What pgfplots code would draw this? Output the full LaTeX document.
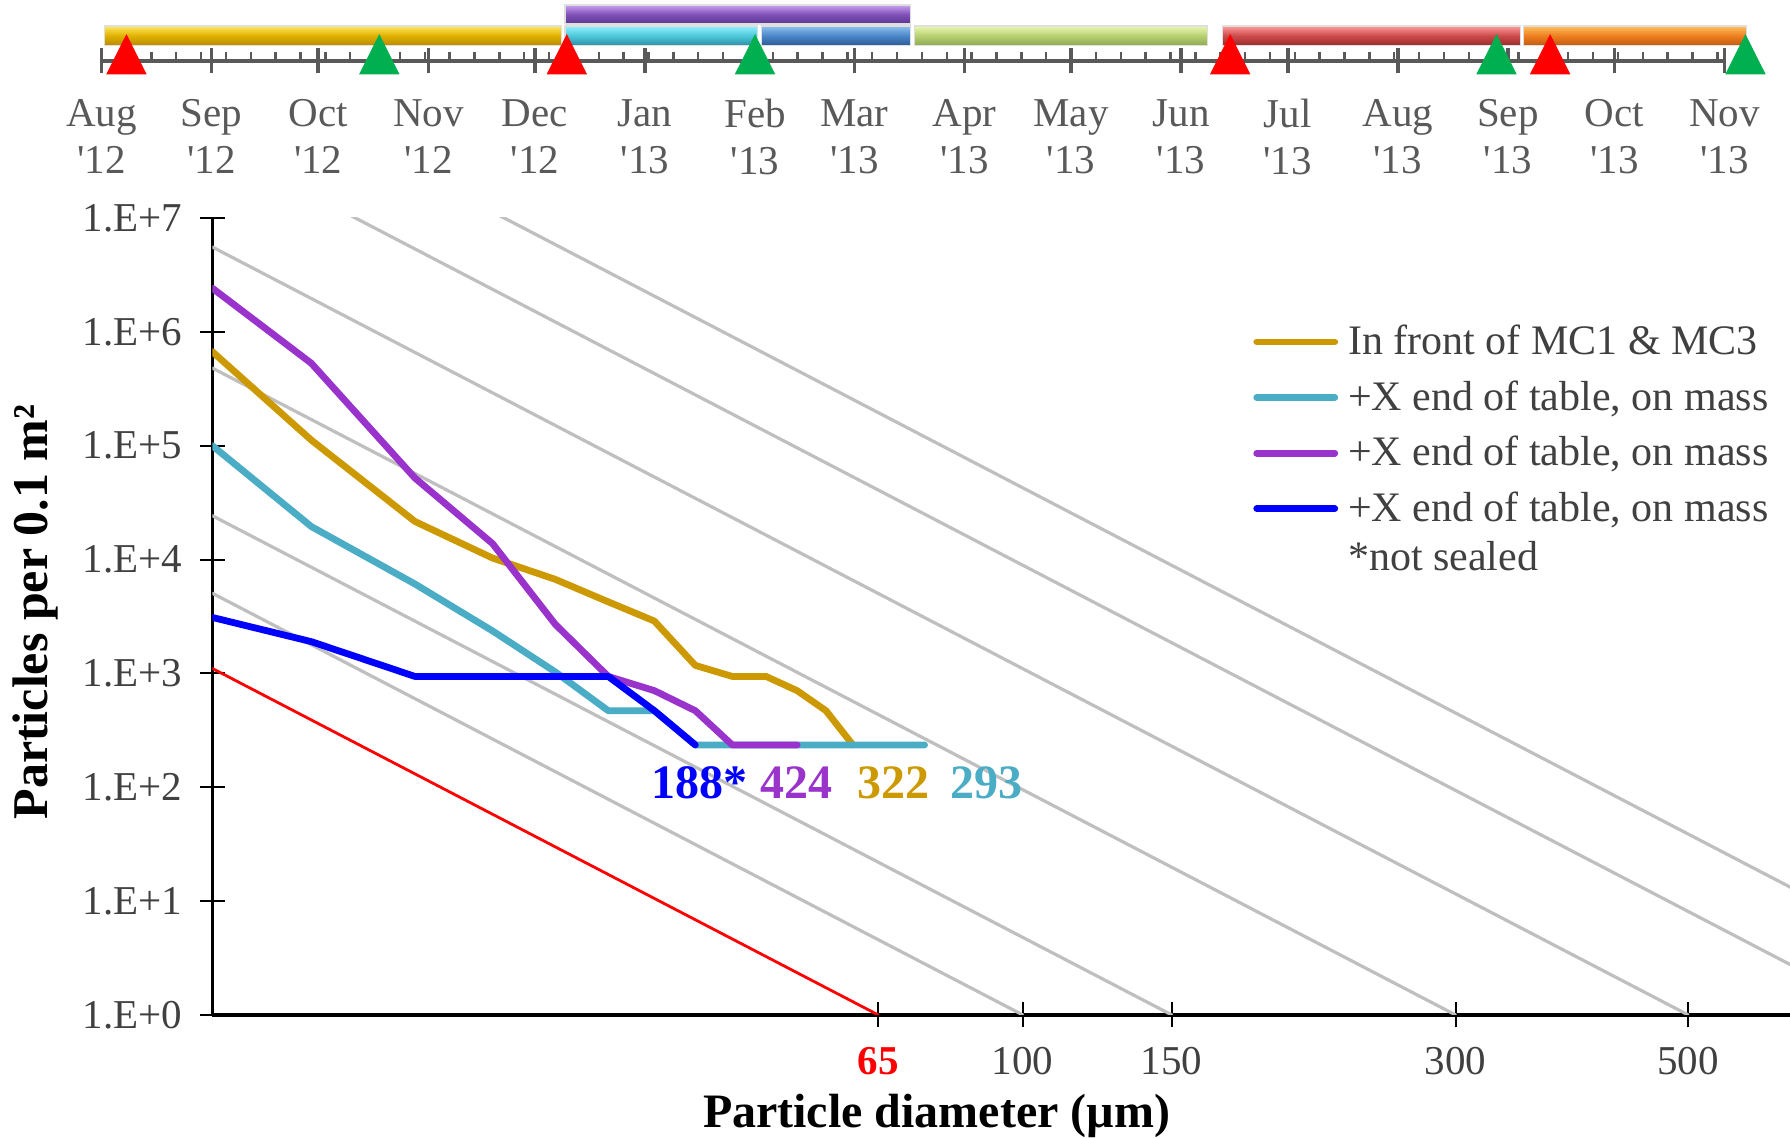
\documentclass[border=0pt]{standalone}
\usepackage{fontspec}
\setmainfont{Liberation Serif}
\usepackage{pgfplots}
\pgfplotsset{compat=1.18}

\definecolor{cgold}{HTML}{CC9900}
\definecolor{ccyan}{HTML}{4BACC6}
\definecolor{cpurple}{HTML}{9933CC}
\definecolor{cblue}{HTML}{0000FF}
\definecolor{lvlgray}{HTML}{BFBFBF}
\definecolor{txtgray}{HTML}{404040}
\definecolor{tgray}{HTML}{595959}
\definecolor{tgreen}{HTML}{00B050}
% timeline bar shades: top / middle / bottom
\definecolor{goldT}{HTML}{FFE860}\definecolor{goldM}{HTML}{E0B000}\definecolor{goldB}{HTML}{B88A00}
\definecolor{aquaT}{HTML}{90F0FF}\definecolor{aquaM}{HTML}{4CC8DA}\definecolor{aquaB}{HTML}{2A8FA5}
\definecolor{steelT}{HTML}{90C0F0}\definecolor{steelM}{HTML}{4A86C8}\definecolor{steelB}{HTML}{2C5A98}
\definecolor{limeT}{HTML}{EAF8B0}\definecolor{limeM}{HTML}{B8D070}\definecolor{limeB}{HTML}{8CA850}
\definecolor{redT}{HTML}{FF9A9A}\definecolor{redM}{HTML}{CC4A4A}\definecolor{redB}{HTML}{9A2A2A}
\definecolor{orT}{HTML}{FFC060}\definecolor{orM}{HTML}{EE7E1E}\definecolor{orB}{HTML}{C05A10}
\definecolor{vioT}{HTML}{C8A0F0}\definecolor{vioM}{HTML}{8050B8}\definecolor{vioB}{HTML}{5A3690}

% x position on the chart: (log10 d)^2
\newcommand{\dsq}{(ln(\thisrow{d})/2.302585093)*(ln(\thisrow{d})/2.302585093)}
\newcommand{\txt}{\fontsize{21bp}{24bp}\selectfont}
\newcommand{\tck}{\fontsize{20.5bp}{24bp}\selectfont}
\newcommand{\lbl}{\bfseries\fontsize{24bp}{28bp}\selectfont}
\newcommand{\ls}{\rule{0pt}{26.3bp}}
\pgfplotsset{bar/.style={draw=gray!25, line width=0.6bp,
    top color=#1T, bottom color=#1B, middle color=#1M}}

\begin{document}
\begin{tikzpicture}
\useasboundingbox (0,0) rectangle (895bp,569bp);

% ---------- timeline ----------
\begin{axis}[
    at={(50.8bp,538.5bp)}, anchor=south west,
    scale only axis, width=811.45bp, height=30.5bp,
    xmin=0, xmax=457, ymin=0, ymax=61,
    axis y line=none, axis x line=bottom,
    axis line style={-, draw=tgray, line width=2bp},
    clip=false,
    xtick={0,31,61,92,122,153,184,212,243,273,304,334,365,396,426,457},
    xticklabels={{Aug\\\textquotesingle12},{Sep\\\textquotesingle12},{Oct\\\textquotesingle12},
      {Nov\\\textquotesingle12},{Dec\\\textquotesingle12},{Jan\\\textquotesingle13},
      {Feb\\\textquotesingle13},{Mar\\\textquotesingle13},{Apr\\\textquotesingle13},
      {May\\\textquotesingle13},{Jun\\\textquotesingle13},{Jul\\\textquotesingle13},
      {Aug\\\textquotesingle13},{Sep\\\textquotesingle13},{Oct\\\textquotesingle13},
      {Nov\\\textquotesingle13}},
    minor xtick={0,7,...,455},
    tick align=center,
    major tick length=12.5bp, minor tick length=4.7bp,
    major tick style={draw=tgray, line width=1.8bp},
    minor tick style={draw=tgray, line width=1.2bp, yshift=2.35bp},
    x tick label style={align=center, anchor=north, inner sep=0pt, yshift=-12.8bp,
      font=\fontsize{20.5bp}{23.5bp}\selectfont, text=tgray},
]
% lower row
\addplot[bar=gold]
  coordinates {(0.85,15.3) (129.6,15.3) (129.6,35) (0.85,35) (0.85,15.3)};
\addplot[bar=aqua]
  coordinates {(130.5,15.3) (184.6,15.3) (184.6,35) (130.5,35) (130.5,15.3)};
\addplot[bar=steel]
  coordinates {(185.9,15.3) (227.7,15.3) (227.7,35) (185.9,35) (185.9,15.3)};
\addplot[bar=lime]
  coordinates {(229,15.3) (311.4,15.3) (311.4,35) (229,35) (229,15.3)};
\addplot[bar=red]
  coordinates {(315.7,15.3) (399.5,15.3) (399.5,35) (315.7,35) (315.7,15.3)};
\addplot[bar=or]
  coordinates {(400.3,15.3) (463.2,15.3) (463.2,35) (400.3,35) (400.3,15.3)};
% upper row
\addplot[bar=vio]
  coordinates {(130.5,37) (227.7,37) (227.7,56) (130.5,56) (130.5,37)};
% milestones
\addplot[only marks, mark=triangle*, mark size=13bp, color=red, mark options={xscale=0.87, draw=none}]
  coordinates {(7,0) (131,0) (317.8,0) (407.9,0)};
\addplot[only marks, mark=triangle*, mark size=13bp, color=tgreen, mark options={xscale=0.87, draw=none}]
  coordinates {(78.2,0) (184,0) (392.8,0) (462.9,0)};
\end{axis}

% ---------- particle distribution ----------
\begin{axis}[
    at={(106.15bp,61.55bp)}, anchor=south west,
    scale only axis, width=788.85bp, height=398.45bp,
    xmin=0, xmax=7.787, ymode=log, ymin=1, ymax=1e7,
    axis x line=bottom, axis y line=left,
    axis line style={-, black, line width=1.6bp},
    xtick={3.286654,4,4.735373,6.136130,7.284439},
    xticklabels={{\color{red}\bfseries 65},100,150,300,500},
    ytick={1,10,100,1000,10000,100000,1000000,10000000},
    yticklabels={1.E+0,1.E+1,1.E+2,1.E+3,1.E+4,1.E+5,1.E+6,1.E+7},
    yminorticks=false,
    tick align=center, major tick length=12.5bp,
    tick style={black, line width=1bp},
    x tick label style={anchor=north, inner sep=0pt, yshift=-9.7bp, font=\tck, text=txtgray},
    y tick label style={anchor=east, inner sep=0pt, xshift=-8.5bp, font=\tck, text=txtgray},
    legend style={at={(0.6596,0.8953)}, anchor=north west, draw=none, fill=none,
      inner sep=0pt, row sep=0pt, font=\txt, text=txtgray,
      nodes={inner xsep=5bp, inner ysep=0pt}},
    legend cell align=left,
    legend image code/.code={\draw[#1] (0bp,-6.15bp) -- (39bp,-6.15bp);},
    every axis plot/.append style={line cap=round, line join=round},
]
% cleanliness level lines (65, 100, 150, 300, 500, 750, 1000)
\addplot[red, line width=1.4bp, forget plot] table[x expr=\dsq, y=n] {
d n
1 1105.1
65 1
};
\addplot[lvlgray, line width=1.6bp, forget plot] table[x expr=\dsq, y=n] {
d n
1 5058.2
100 1
};
\addplot[lvlgray, line width=1.6bp, forget plot] table[x expr=\dsq, y=n] {
d n
1 24266
150 1
};
\addplot[lvlgray, line width=1.6bp, forget plot] table[x expr=\dsq, y=n] {
d n
1 480950
300 1
};
\addplot[lvlgray, line width=1.6bp, forget plot] table[x expr=\dsq, y=n] {
d n
1 5561800
500 1
};
\addplot[lvlgray, line width=1.6bp, forget plot] table[x expr=\dsq, y=n] {
d n
1 45104000
750 1
};
\addplot[lvlgray, line width=1.6bp, forget plot] table[x expr=\dsq, y=n] {
d n
1 215770000
1000 1
};

% measurements
\addplot[cgold, line width=3.4bp] table[x expr=\dsq, y=n] {
d n
1 670000
5 112000
10 21600
15 10300
20 6700
25 4250
30 2880
35 1175
40 940
45 940
50 705
55 470
60 235
};
\addlegendentry{\ls In front of MC1 \& MC3}
\addplot[ccyan, line width=3.4bp] table[x expr=\dsq, y=n] {
d n
1 100000
5 19500
10 6100
15 2360
20 1030
25 470
30 470
35 235
40 235
45 235
50 235
55 235
60 235
65 235
70 235
75 235
};
\addlegendentry{\ls +X end of table, on mass}
\addplot[cpurple, line width=3.4bp] table[x expr=\dsq, y=n] {
d n
1 2420000
5 530000
10 52000
15 13800
20 2700
25 940
30 705
35 470
40 235
45 235
50 235
};
\addlegendentry{\ls +X end of table, on mass}
\addplot[cblue, line width=3.4bp] table[x expr=\dsq, y=n] {
d n
1 3100
5 1900
10 940
15 940
20 940
25 940
30 470
35 235
};
\addlegendentry{\ls +X end of table, on mass}
\addlegendimage{empty legend}
\addlegendentry{\rule{0pt}{23.3bp}*not sealed}
\end{axis}

% axis titles
\node[anchor=base, font=\lbl] at (468.35bp,5.5bp) {Particle diameter (µm)};
\node[rotate=90, anchor=center, font=\bfseries\fontsize{25bp}{28bp}\selectfont] at (17.5bp,263bp) {Particles per 0.1 m²};

% cleanliness levels reached
\node[anchor=base, text=cblue, font=\lbl] at (349.5bp,169.85bp) {188*};
\node[anchor=base, text=cpurple, font=\lbl] at (398.35bp,169.85bp) {424};
\node[anchor=base, text=cgold, font=\lbl] at (446.5bp,169.85bp) {322};
\node[anchor=base, text=ccyan, font=\lbl] at (493bp,169.85bp) {293};
\end{tikzpicture}
\end{document}
